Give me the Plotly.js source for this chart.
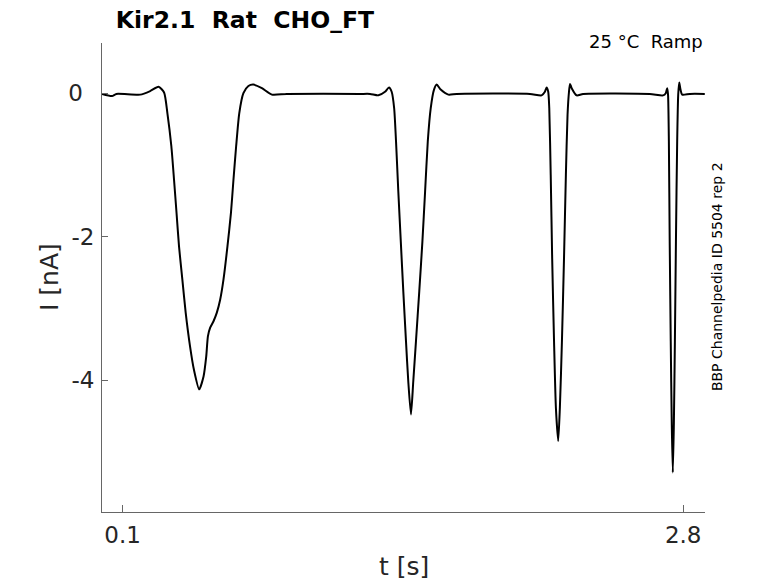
<!DOCTYPE html>
<html>
<head>
<meta charset="utf-8">
<script src="https://cdn.plot.ly/plotly-3.0.1.min.js"></script>
<style>
  html, body { margin: 0; padding: 0; background: #fff; }
  #chart { width: 778px; height: 583px; }
</style>
</head>
<body>
<div id="chart"></div>
<script>
// current trace: time [s] and current [nA]
const timeS = [
  0.001, 0.049, 0.070, 0.185, 0.233, 0.273, 0.300, 0.316, 0.335, 0.348, 0.360, 0.372,
  0.388, 0.404, 0.425, 0.444, 0.469, 0.490, 0.503, 0.511, 0.522, 0.538, 0.554, 0.570,
  0.586, 0.605, 0.622, 0.634, 0.647, 0.662, 0.682, 0.706, 0.730, 0.771, 0.819, 0.891,
  1.244, 1.292, 1.332, 1.364, 1.383, 1.396, 1.408, 1.417, 1.428, 1.440, 1.452, 1.465,
  1.476, 1.489, 1.500, 1.513, 1.529, 1.544, 1.557, 1.570, 1.584, 1.600, 1.613, 1.632,
  1.669, 1.709,
  2.062, 2.118, 2.134, 2.142, 2.150, 2.155, 2.162, 2.169, 2.178, 2.187, 2.198, 2.206,
  2.216, 2.226, 2.235, 2.243, 2.250, 2.255, 2.263, 2.287, 2.318,
  2.639, 2.703, 2.716, 2.723, 2.727, 2.731, 2.735, 2.740, 2.745, 2.750, 2.755, 2.760,
  2.765, 2.771, 2.776, 2.781, 2.787, 2.795, 2.832, 2.904
];
const currentNA = [
  -0.01, -0.04, -0.01, -0.02, 0.03, 0.09, 0.01, -0.28, -0.74, -1.21, -1.67, -2.14,
  -2.60, -3.06, -3.53, -3.86, -4.13, -3.95, -3.67, -3.39, -3.27, -3.18, -3.06, -2.88,
  -2.60, -2.14, -1.67, -1.21, -0.74, -0.28, 0.00, 0.10, 0.12, 0.07, -0.02, -0.01,
  -0.01, -0.01, -0.03, 0.02, 0.08, 0.02, -0.21, -0.67, -1.37, -2.07, -2.76, -3.46,
  -4.02, -4.48, -4.02, -3.46, -2.76, -2.07, -1.37, -0.67, -0.21, 0.05, 0.12, 0.05,
  -0.02, -0.01,
  -0.01, -0.03, 0.02, 0.08, 0.02, -0.21, -1.14, -2.30, -3.46, -4.39, -4.85, -4.39,
  -3.46, -2.30, -1.14, -0.30, 0.02, 0.13, 0.07, -0.03, -0.01,
  -0.01, -0.03, 0.00, 0.07, -0.02, -0.67, -2.07, -3.46, -4.62, -5.29, -4.62, -3.46,
  -2.07, -0.67, -0.02, 0.15, 0.05, -0.02, -0.01, -0.01
];

const xTickVals = [0.1, 2.8];
const xTickText = ["0.1", "2.8"];
const yTickVals = [0, -2, -4];
const yTickText = ["0\u2002", "-2", "-4"];

const axisCol = "#262626";
const font = "DejaVu Sans, sans-serif";

const trace = {
  x: timeS,
  y: currentNA,
  type: "scatter",
  mode: "lines",
  line: { color: "#000", width: 2, shape: "spline", smoothing: 0.6 },
  hoverinfo: "skip"
};

const layout = {
  width: 778, height: 583,
  margin: { l: 102, r: 73, t: 43, b: 71 },
  paper_bgcolor: "#fff", plot_bgcolor: "#fff",
  showlegend: false,
  font: { family: font, color: axisCol },
  title: {
    text: "<b>Kir2.1\u00a0 Rat\u00a0 CHO_FT</b>",
    font: { family: font, size: 23.5, color: "#000" },
    xref: "paper", x: 0.023, xanchor: "left",
    yref: "container", y: 0.966, yanchor: "middle"
  },
  xaxis: {
    range: [0.001, 2.905],
    tickvals: xTickVals, ticktext: xTickText,
    ticks: "inside", ticklen: 7, tickcolor: "#666",
    ticklabelstandoff: 2,
    showline: true, linecolor: "#666", linewidth: 1,
    showgrid: false, zeroline: false,
    tickfont: { family: font, size: 23, color: axisCol }
  },
  yaxis: {
    range: [-5.84, 0.70],
    tickvals: yTickVals, ticktext: yTickText,
    ticks: "inside", ticklen: 6, tickcolor: "#666",
    ticklabelstandoff: 2,
    showline: true, linecolor: "#666", linewidth: 1,
    showgrid: false, zeroline: false,
    tickfont: { family: font, size: 23, color: axisCol }
  },
  annotations: [
    { text: "t [s]", xref: "paper", yref: "paper", x: 0.5, y: -0.117,
      xanchor: "center", yanchor: "middle", showarrow: false,
      font: { family: font, size: 25, color: axisCol } },
    { text: "I [nA]", xref: "paper", yref: "paper", x: -0.087, y: 0.5,
      xanchor: "center", yanchor: "middle", textangle: -90, showarrow: false,
      font: { family: font, size: 25, color: axisCol } },
    { text: "25 °C\u00a0 Ramp", xref: "paper", yref: "paper", x: 1.0, y: 1.004,
      xanchor: "right", yanchor: "middle", showarrow: false,
      font: { family: font, size: 18, color: "#000" } },
    { text: "BBP Channelpedia ID 5504 rep 2", xref: "paper", yref: "paper", x: 1.02, y: 0.501,
      xanchor: "center", yanchor: "middle", textangle: -90, showarrow: false,
      font: { family: font, size: 14, color: "#000" } }
  ]
};

Plotly.newPlot("chart", [trace], layout, { staticPlot: true, displayModeBar: false });
</script>
</body>
</html>
